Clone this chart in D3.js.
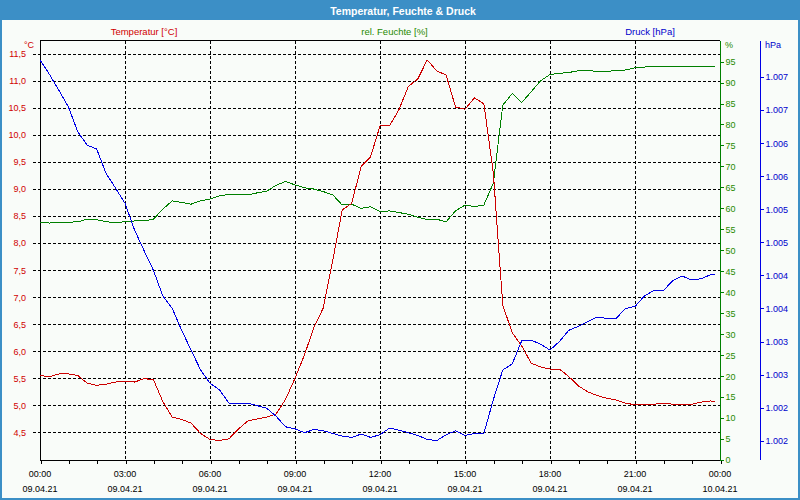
<!DOCTYPE html>
<html><head><meta charset="utf-8">
<script src="https://cdn.jsdelivr.net/npm/d3@7"></script>
<style>
body{margin:0;background:#fff}
svg{display:block}
text{font-family:"Liberation Sans",Arial,sans-serif}
</style>
</head><body>
<svg id="c" width="800" height="500"></svg>
<script>
// ---- data (20-minute readings, 09.04.21 00:00 .. 23:50) ----
const minutes = d3.range(0, 1440, 20).concat([1430]);
const temperature = [
  5.56,5.54,5.59,5.59,5.56,5.42,5.38,5.40,5.44,5.46,5.44,5.50,5.49,5.08,4.79,4.75,4.68,4.49,4.38,
  4.36,4.39,4.57,4.72,4.76,4.79,4.85,5.12,5.51,5.94,6.45,6.81,7.69,8.62,8.74,9.42,9.60,10.17,
  10.17,10.47,10.90,11.04,11.39,11.19,11.11,10.52,10.48,10.69,10.58,9.30,6.86,6.35,6.11,5.79,5.72,5.68,
  5.68,5.54,5.37,5.26,5.19,5.14,5.11,5.05,5.02,5.02,5.03,5.05,5.03,5.02,5.03,5.07,5.09,
  5.08
];
const humidity = [
  56.6,56.5,56.6,56.7,56.8,57.4,57.3,56.8,56.6,56.8,57.0,57.0,57.4,59.8,61.8,61.4,61.0,61.8,62.2,
  63.0,63.3,63.4,63.2,63.7,64.1,65.5,66.4,65.6,64.9,64.6,64.0,63.2,60.8,61.0,60.0,60.4,59.2,
  59.4,59.0,58.6,57.9,57.3,57.4,56.8,59.4,60.8,60.4,60.8,66.0,84.6,87.4,85.2,87.8,90.4,91.9,
  92.2,92.4,92.8,92.8,92.7,92.7,92.8,93.0,93.5,93.7,93.9,93.9,93.9,93.9,93.9,93.9,93.9,
  93.9
];
const pressure = [
  1007.26,1007.04,1006.80,1006.55,1006.17,1005.97,1005.91,1005.54,1005.32,1005.09,1004.69,1004.38,1004.08,1003.69,1003.50,1003.17,1002.87,1002.57,1002.37,
  1002.27,1002.07,1002.07,1002.07,1002.03,1001.99,1001.87,1001.71,1001.68,1001.62,1001.67,1001.65,1001.61,1001.57,1001.55,1001.60,1001.55,1001.59,
  1001.69,1001.66,1001.62,1001.58,1001.52,1001.50,1001.59,1001.65,1001.58,1001.61,1001.61,1002.12,1002.57,1002.66,1003.01,1003.02,1002.96,1002.87,
  1003.00,1003.17,1003.23,1003.30,1003.37,1003.35,1003.35,1003.50,1003.53,1003.69,1003.77,1003.77,1003.92,1003.99,1003.93,1003.95,1004.01,
  1004.02
];
const tempTicks = d3.range(9, 24).map(i => i / 2);        // 4,5 .. 11,5
const humTicks = d3.range(0, 100, 5);                      // 0 .. 95
const presTicks = d3.range(2003, 2015).map(i => i / 2);    // 1001,5 .. 1007
const title = "Temperatur, Feuchte & Druck";
const seriesNames = ["Temperatur [°C]", "rel. Feuchte [%]", "Druck [hPa]"];
const unitLabels = ["°C", "%", "hPa"];

// ---- setup ----
const COL = {frame:"#3c8fc6", red:"#cc0000", redTxt:"#d00000", green:"#008000", greenTxt:"#1f8a00", blue:"#0000e6", blueTxt:"#0000cc"};
const de = d3.formatLocale({decimal: ",", thousands: ".", grouping: [3], currency: ["", " €"]});
const fT = de.format(".1f"), fP = de.format(",.0f"), fH = de.format("d");
const t0 = new Date(2021, 3, 9, 0, 0);
const t1 = new Date(2021, 3, 10, 0, 0);
const times = minutes.map(m => new Date(t0.getTime() + m * 60000));

const L = 40, R = 720, T = 40.6, B = 460;
const x = d3.scaleTime().domain([t0, t1]).range([L, R]);
const yT = d3.scaleLinear().domain([4.0, 11.5]).range([B, 54]);
const yH = d3.scaleLinear().domain([0, 100]).range([B, T]);
const yP = d3.scaleLinear().domain([1001.5, 1007]).range([440.7, 77.0]);

const svg = d3.select("#c");
svg.append("rect").attr("width", 800).attr("height", 500).attr("fill", "#f9fcf9");
svg.append("rect").attr("x", 1).attr("y", 1).attr("width", 798).attr("height", 498)
  .attr("fill", "none").attr("stroke", COL.frame).attr("stroke-width", 2);
svg.append("rect").attr("x", 0).attr("y", 0).attr("width", 800).attr("height", 20).attr("fill", COL.frame);
svg.append("text").attr("x", 403).attr("y", 10.5).attr("text-anchor", "middle").attr("dominant-baseline", "central")
  .attr("fill", "#fff").attr("font-weight", "bold").attr("font-size", "10.5px").text(title);

// series header labels
const hdr = [[144, COL.redTxt], [394.5, COL.greenTxt], [650, COL.blueTxt]];
seriesNames.forEach((s, i) => svg.append("text").attr("x", hdr[i][0]).attr("y", 31)
  .attr("text-anchor", "middle").attr("dominant-baseline", "central").attr("font-size", "9.5px")
  .attr("fill", hdr[i][1]).text(s));

const crisp = v => Math.round(v - 0.5) + 0.5;

// horizontal dashed grid (temperature ticks)
const g = svg.append("g").attr("shape-rendering", "crispEdges");
g.selectAll(".hg").data(tempTicks).join("line")
  .attr("x1", 33).attr("x2", R).attr("y1", d => crisp(yT(d))).attr("y2", d => crisp(yT(d)))
  .attr("stroke", "#000").attr("stroke-dasharray", "3,2");
// vertical dashed grid every 3 h
const vTicks = d3.timeHour.every(3).range(new Date(t0.getTime() + 1), t1);
g.selectAll(".vg").data(vTicks).join("line")
  .attr("x1", d => crisp(x(d))).attr("x2", d => crisp(x(d))).attr("y1", T).attr("y2", B)
  .attr("stroke", "#000").attr("stroke-dasharray", "3,2");

// left temperature labels
svg.selectAll(".tl").data(tempTicks).join("text")
  .attr("x", 26).attr("y", d => yT(d)).attr("text-anchor", "end").attr("dominant-baseline", "central")
  .attr("font-size", "9px").attr("fill", COL.redTxt).text(d => fT(d));
svg.append("text").attr("x", 34).attr("y", 45).attr("text-anchor", "end").attr("dominant-baseline", "central")
  .attr("font-size", "9px").attr("fill", COL.redTxt).text(unitLabels[0]);

// frame lines
g.append("line").attr("x1", L).attr("x2", R).attr("y1", 40.5).attr("y2", 40.5).attr("stroke", "#000");
g.append("line").attr("x1", 40.5).attr("x2", 40.5).attr("y1", 40).attr("y2", B + 1).attr("stroke", "#000");

// bottom axis
const xAxis = d3.axisBottom(x).ticks(d3.timeHour.every(1)).tickSize(3).tickFormat("");
const gx = svg.append("g").attr("transform", `translate(0,${B + 0.5})`).attr("shape-rendering", "crispEdges").call(xAxis);
gx.select(".domain").attr("d", `M${L},0H${R}`).attr("stroke", "#000");
gx.selectAll(".tick line").attr("stroke", "#000").attr("transform", "translate(0.5,0)");
const lblTicks = d3.timeHour.every(3).range(t0, new Date(t1.getTime() + 1));
const fTime = d3.timeFormat("%H:%M"), fDate = d3.timeFormat("%d.%m.%y");
svg.selectAll(".xl1").data(lblTicks).join("text").attr("x", d => x(d)).attr("y", 474)
  .attr("text-anchor", "middle").attr("dominant-baseline", "central").attr("font-size", "9px").attr("fill", "#000")
  .text(fTime);
svg.selectAll(".xl2").data(lblTicks).join("text").attr("x", d => x(d)).attr("y", 489)
  .attr("text-anchor", "middle").attr("dominant-baseline", "central").attr("font-size", "9px").attr("fill", "#000")
  .text(fDate);

// right humidity axis
const hAxis = d3.axisRight(yH).tickValues(humTicks).tickSize(3).tickPadding(2).tickFormat(fH);
const gh = svg.append("g").attr("transform", "translate(720.5,0)").attr("shape-rendering", "crispEdges").call(hAxis);
gh.select(".domain").attr("d", `M0,${T}V${B + 1}`).attr("stroke", COL.green);
gh.selectAll(".tick line").attr("stroke", COL.green);
gh.selectAll(".tick text").attr("fill", COL.greenTxt).attr("font-size", "9px").attr("font-family", null);
svg.append("text").attr("x", 725).attr("y", 45).attr("dominant-baseline", "central")
  .attr("font-size", "9px").attr("fill", COL.greenTxt).text(unitLabels[1]);

// pressure axis
const pAxis = d3.axisRight(yP).tickValues(presTicks).tickSize(3).tickPadding(2).tickFormat(fP);
const gp = svg.append("g").attr("transform", "translate(760.5,0)").attr("shape-rendering", "crispEdges").call(pAxis);
gp.select(".domain").attr("d", `M0,${T}V${B}`).attr("stroke", COL.blue);
gp.selectAll(".tick line").attr("stroke", COL.blue);
gp.selectAll(".tick text").attr("fill", COL.blueTxt).attr("font-size", "9px").attr("font-family", null);
svg.append("text").attr("x", 765).attr("y", 45).attr("dominant-baseline", "central")
  .attr("font-size", "9px").attr("fill", COL.blueTxt).text(unitLabels[2]);

// data lines (aliased like the original GDI rendering)
const mk = (ys, vals) => d3.line().x((d, i) => x(times[i])).y(d => ys(d))(vals);
const lines = svg.append("g").attr("fill", "none").attr("stroke-width", 1).attr("shape-rendering", "crispEdges");
lines.append("path").attr("d", mk(yH, humidity)).attr("stroke", COL.green);
lines.append("path").attr("d", mk(yT, temperature)).attr("stroke", COL.red);
lines.append("path").attr("d", mk(yP, pressure)).attr("stroke", COL.blue);

// right edge of plot (green axis on top)
g.append("line").attr("x1", 720.5).attr("x2", 720.5).attr("y1", T).attr("y2", B + 1).attr("stroke", COL.green);
</script>
</body></html>
